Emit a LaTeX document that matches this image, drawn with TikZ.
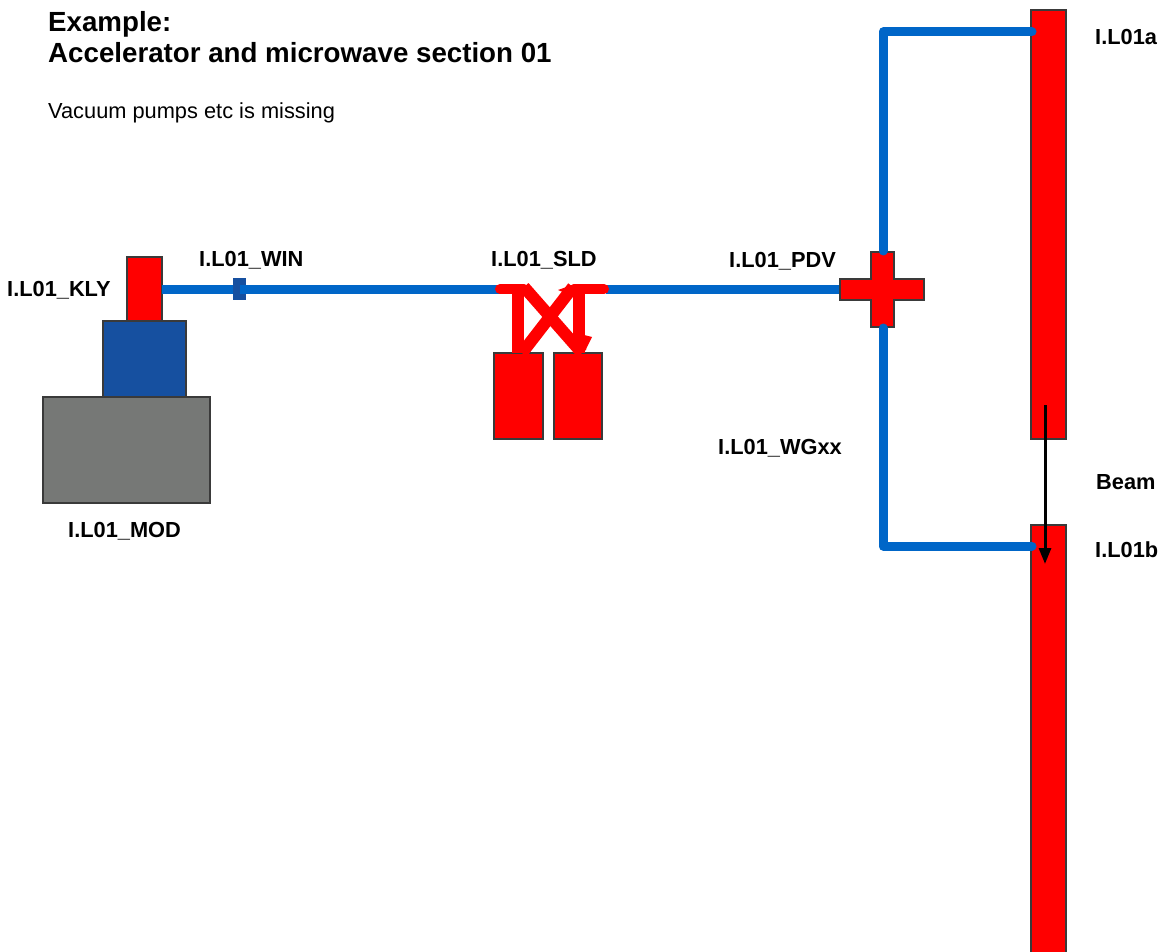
\documentclass[tikz,border=0pt]{standalone}
\usepackage{fontspec}
\setmainfont{Liberation Sans}
\usetikzlibrary{arrows.meta}
\definecolor{wgblue}{HTML}{0066C8}
\definecolor{darkblue}{HTML}{1650A0}
\definecolor{modgrey}{HTML}{767876}
\definecolor{edgegrey}{HTML}{3A3A3A}
\tikzset{
 box/.style={draw=edgegrey,line width=1.6pt,anchor=north west,inner sep=0pt,outer sep=0pt},
 redbox/.style={box,fill=red},
 wg/.style={draw=wgblue,line width=9pt,line cap=round,line join=round},
 wgflat/.style={draw=wgblue,line width=9pt,line cap=butt},
 pipe/.style={draw=red,line width=12pt,line cap=butt},
 lab/.style={font=\fontsize{21.8}{26}\selectfont\bfseries,inner sep=0pt,anchor=base west},
}
\begin{document}
\begin{tikzpicture}[x=1pt,y=-1pt]
\useasboundingbox (0,0) rectangle (1161,952);
% text
\node[font=\fontsize{27.7}{31}\selectfont\bfseries,inner sep=0pt,anchor=north west,align=left] (title) at (48,11) {Example:\\Accelerator and microwave section 01};
\node[font=\fontsize{21.8}{26}\selectfont,inner sep=0pt,anchor=base west] (note) at (48,119) {Vacuum pumps etc is missing};
\node[lab] (lkly) at (7,296) {I.L01\_KLY};
\node[lab] (lwin) at (199,266) {I.L01\_WIN};
\node[lab] (lsld) at (491,266) {I.L01\_SLD};
\node[lab] (lpdv) at (729,267) {I.L01\_PDV};
\node[lab] (lwg) at (718,454) {I.L01\_WGxx};
\node[lab] (lmod) at (68,537) {I.L01\_MOD};
\node[lab] (lbeam) at (1096,489) {Beam};
\node[lab] (la) at (1095,45) {I.L01a};
\node[lab] (lb) at (1095,557) {I.L01b};
% modulator stack
\node[box,fill=modgrey,minimum width=167pt,minimum height=106pt] (mod) at (43,397) {};
\node[box,fill=darkblue,minimum width=83pt,minimum height=76pt] (tank) at (103,321) {};
\node[redbox,minimum width=35pt,minimum height=64pt] (kly) at (127,257) {};
% window and waveguide
\coordinate (wc) at (239.5,289);
\draw[wgflat] (kly.east |- wc) -- (wc);
\node[anchor=center,fill=darkblue,minimum width=13pt,minimum height=22pt,inner sep=0pt] (win) at (wc) {};
% SLED tanks
\node[redbox,minimum width=49pt,minimum height=86pt] (tl) at (494,353) {};
\node[redbox,minimum width=48pt,minimum height=86pt] (tr) at (554,353) {};
\coordinate (sa) at (500,289);
\coordinate (sb) at (524,287);
\coordinate (sc) at (606,289);
\coordinate (sd) at (573,287);
\coordinate (se) at (518,286);
\coordinate (sf) at (518,353);
\coordinate (sg) at (579,286);
\coordinate (sh) at (579,353);
\coordinate (si) at (582,353);
\coordinate (sj) at (522,353);
% waveguides
\draw[wgflat] (wc) -- (sa);
\draw[wgflat] (sc) -- (843,289);
% SLED pipes
\draw[draw=red,line width=10pt,line cap=round] (sa) -- (524,289);
\draw[draw=red,line width=10pt,line cap=round] (sc) ++(-2,0) -- (574,289);
\draw[pipe] (sb) -- (si);
\draw[pipe] (sd) -- (sj);
\draw[pipe] (se) -- (sf);
\draw[pipe] (sg) -- (sh);
\fill[red] (575,284) -- (558,290) -- (572,296) -- cycle;
\fill[red] (584,335) -- (592,337) -- (584,353) -- cycle;
% cavities
\node[redbox,minimum width=35pt,minimum height=429pt] (ca) at (1031,10) {};
\node[redbox,minimum width=35pt,minimum height=428pt] (cb) at (1031,525) {};
% power divider
\path[draw=edgegrey,fill=red,line width=1.6pt,line join=miter]
  (871,252) -- (894,252) -- (894,279) -- (924,279) -- (924,300) -- (894,300) -- (894,327) -- (871,327) -- (871,300) -- (840,300) -- (840,279) -- (871,279) -- cycle;
\coordinate (pt) at (883,251);
\coordinate (pb) at (883,328);
\coordinate (ctop) at (883,32);
\coordinate (cbot) at (883,546);
\draw[wg] (pt) -- (ctop) -- (ca.west |- ctop) -- ++(1,0);
\draw[wg] (pb) -- (cbot) -- (cb.west |- cbot) -- ++(1,0);
% beam
\coordinate (bs) at (1045,405);
\coordinate (be) at (1045,564);
\draw[line width=3pt,-{Triangle[length=16pt,width=12pt]}] (bs) -- (be);
\end{tikzpicture}
\end{document}
